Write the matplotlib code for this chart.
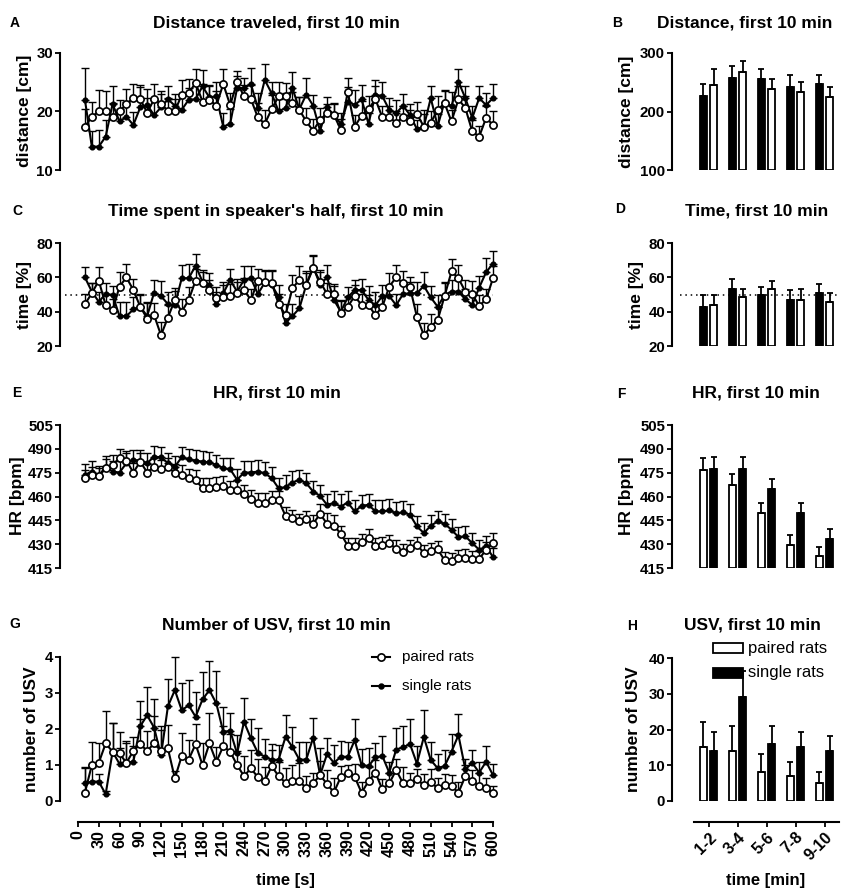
import numpy as np
import matplotlib
matplotlib.use("Agg")
import matplotlib.pyplot as plt
from matplotlib.lines import Line2D
from matplotlib.patches import Rectangle
from matplotlib.transforms import Affine2D

plt.rcParams['font.family'] = ['Liberation Sans', 'DejaVu Sans']

# ---------------- data ----------------
time_s = np.arange(10, 610, 10)
time_ticks = np.arange(0, 630, 30)
bins_min = ['1-2', '3-4', '5-6', '7-8', '9-10']

# distance traveled per 10 s bin [cm]
dist_paired = [17.4, 19.1, 20.0, 20.0, 19.0, 20.0, 21.3, 22.3, 22.1, 19.8,
               22.1, 21.3, 20.1, 20.0, 22.9, 23.1, 24.9, 21.7, 22.0, 21.0,
               24.7, 21.1, 25.0, 22.6, 22.1, 19.0, 17.9, 20.4, 22.6, 22.6,
               21.4, 20.3, 18.3, 16.7, 18.6, 19.7, 19.4, 16.9, 23.4, 17.4,
               19.3, 20.4, 22.1, 19.0, 19.0, 18.1, 19.0, 18.3, 19.6, 17.4,
               18.1, 20.3, 21.4, 18.3, 22.1, 20.6, 16.6, 15.7, 18.9, 17.7]
dist_paired_err = [3.0, 2.5, 3.6, 3.5, 2.5, 2.0, 2.5, 2.4, 2.5, 2.5,
                   2.6, 2.2, 2.2, 2.2, 2.5, 2.4, 2.3, 3.0, 2.5, 2.5,
                   2.5, 2.0, 2.0, 2.0, 2.5, 2.5, 2.4, 2.5, 2.5, 2.3,
                   2.0, 2.2, 2.3, 2.0, 2.0, 1.5, 2.0, 1.8, 2.4, 2.0,
                   2.5, 2.3, 2.3, 2.0, 2.0, 2.0, 2.0, 2.0, 2.0, 2.2,
                   2.0, 2.3, 2.2, 2.0, 2.2, 2.0, 2.0, 1.8, 2.0, 2.3]
dist_single = [22.0, 14.0, 14.0, 15.7, 21.3, 18.3, 19.1, 17.7, 20.7, 21.1,
               19.4, 20.7, 22.1, 21.0, 20.3, 22.0, 22.1, 24.3, 22.4, 22.6,
               17.4, 17.9, 24.0, 24.0, 24.7, 20.6, 25.4, 23.1, 20.0, 20.6,
               24.0, 20.4, 22.9, 21.0, 16.7, 20.7, 19.4, 17.9, 21.7, 21.1,
               22.1, 17.9, 22.9, 22.6, 20.3, 19.7, 21.0, 19.4, 17.0, 17.4,
               22.3, 17.5, 21.7, 20.9, 25.1, 22.3, 18.9, 22.3, 21.1, 22.3]
dist_single_err = [5.4, 2.6, 2.8, 2.9, 3.0, 2.2, 2.5, 2.2, 3.5, 2.8,
                   2.5, 2.3, 2.2, 2.0, 2.5, 2.0, 3.0, 2.8, 2.0, 2.5,
                   2.3, 2.5, 2.0, 1.8, 2.8, 2.5, 2.8, 2.0, 2.2, 2.5,
                   2.8, 2.0, 2.8, 1.8, 1.5, 1.8, 1.8, 1.8, 2.5, 2.5,
                   2.5, 1.8, 2.5, 2.5, 2.0, 2.2, 2.0, 1.8, 1.5, 2.8,
                   2.0, 2.0, 1.8, 2.5, 2.2, 2.0, 2.0, 2.0, 2.0, 2.4]

# time spent in speaker's half [%]
half_paired = [44.4, 50.7, 58.1, 43.8, 40.9, 54.6, 60.0, 52.6, 42.9, 36.0,
               38.0, 26.3, 36.6, 46.8, 40.0, 46.8, 58.1, 56.9, 52.6, 47.8,
               48.7, 49.1, 50.7, 52.6, 46.8, 58.1, 57.5, 56.9, 44.4, 38.0,
               53.6, 58.5, 55.6, 65.3, 57.5, 50.3, 50.3, 39.0, 42.9, 49.1,
               43.8, 43.8, 38.0, 42.9, 54.6, 60.0, 56.5, 54.2, 37.0, 26.3,
               31.1, 35.1, 49.1, 63.4, 59.5, 51.7, 50.3, 43.3, 47.2, 59.5]
half_paired_err = [6.0, 6.0, 8.0, 6.5, 6.5, 8.5, 7.5, 6.5, 7.0, 9.0,
                   7.0, 7.5, 7.5, 7.0, 7.5, 7.5, 6.5, 6.0, 6.0, 6.5,
                   7.0, 7.0, 6.5, 7.0, 6.5, 7.0, 7.0, 6.5, 6.0, 6.5,
                   8.0, 8.0, 8.0, 7.0, 7.0, 6.5, 6.0, 7.0, 6.5, 6.5,
                   6.5, 6.0, 6.5, 6.5, 8.0, 7.0, 7.0, 6.0, 7.5, 7.0,
                   7.5, 7.5, 7.5, 7.5, 7.5, 7.0, 7.5, 6.5, 6.0, 7.0]
half_single = [60.0, 51.7, 45.8, 50.3, 49.7, 37.4, 37.4, 41.3, 42.9, 37.4,
               51.1, 49.1, 44.4, 43.8, 59.5, 59.5, 66.7, 57.5, 55.6, 44.4,
               50.7, 58.5, 51.7, 58.5, 59.5, 50.3, 56.9, 55.6, 48.7, 33.5,
               37.4, 41.9, 55.6, 66.3, 55.6, 60.0, 46.8, 40.0, 48.3, 52.6,
               52.6, 46.8, 43.8, 49.1, 49.1, 43.8, 50.3, 50.7, 50.7, 55.0,
               48.3, 42.9, 49.7, 51.7, 51.7, 47.2, 44.0, 54.0, 63.0, 68.0]
half_single_err = [6.0, 5.0, 5.5, 6.5, 5.0, 8.0, 8.0, 7.0, 7.5, 8.0,
                   7.5, 8.5, 7.0, 8.0, 7.5, 8.0, 7.0, 6.5, 7.0, 7.0,
                   6.5, 6.5, 7.5, 8.0, 7.0, 8.0, 7.0, 8.5, 7.0, 5.5,
                   7.0, 7.5, 7.0, 6.5, 7.5, 7.0, 8.0, 7.0, 6.0, 6.0,
                   6.5, 8.0, 7.5, 6.5, 6.0, 6.5, 6.0, 6.5, 6.5, 8.0,
                   6.5, 7.0, 7.5, 6.5, 6.5, 6.0, 6.5, 7.0, 8.0, 7.5]

# heart rate [bpm]
hr_paired = [471.5, 473.6, 472.6, 477.8, 479.9, 484.1, 482.6, 475.1, 482.0, 475.1,
             478.8, 477.2, 478.8, 474.7, 473.6, 471.5, 470.5, 465.2, 465.2, 465.9,
             466.7, 463.8, 464.2, 461.7, 458.3, 456.2, 456.2, 457.5, 457.5, 447.9,
             446.4, 444.3, 445.8, 442.8, 449.1, 442.8, 441.6, 436.6, 429.0, 429.0,
             431.1, 433.8, 428.6, 429.7, 430.7, 426.9, 424.8, 427.6, 429.7, 424.4,
             425.5, 426.9, 419.8, 419.2, 421.3, 421.3, 420.7, 420.7, 426.5, 430.7]
hr_paired_err = [5.0, 5.0, 5.5, 6.0, 6.0, 5.5, 6.0, 6.0, 5.5, 5.5,
                 5.5, 5.5, 5.5, 5.5, 6.0, 6.0, 6.0, 6.5, 6.5, 6.5,
                 6.0, 6.0, 6.0, 5.5, 6.0, 6.0, 6.0, 6.0, 6.0, 5.5,
                 5.0, 5.0, 5.0, 5.5, 6.0, 7.0, 6.5, 5.0, 5.0, 5.0,
                 5.0, 5.5, 5.5, 5.0, 5.0, 5.5, 5.0, 5.0, 5.0, 5.0,
                 5.0, 5.0, 5.0, 5.0, 5.0, 5.5, 5.0, 5.0, 5.0, 6.5]
hr_single = [473.6, 475.7, 473.0, 478.8, 475.7, 475.1, 481.0, 483.0, 482.6, 481.0,
             485.1, 484.7, 481.0, 478.8, 484.7, 483.4, 482.6, 482.0, 481.4, 479.9,
             477.8, 477.2, 470.5, 475.1, 475.1, 475.7, 474.7, 471.5, 465.2, 465.9,
             468.8, 470.5, 468.4, 463.1, 460.4, 454.8, 455.8, 453.7, 456.2, 450.6,
             454.1, 454.8, 450.6, 450.6, 451.2, 449.5, 450.0, 448.5, 441.2, 437.0,
             441.6, 444.3, 442.8, 439.1, 434.5, 434.9, 430.7, 426.5, 428.6, 421.9]
hr_single_err = [7.0, 6.5, 6.5, 6.5, 6.5, 7.0, 6.5, 6.5, 6.5, 6.5,
                 6.5, 6.5, 6.5, 7.0, 6.5, 6.5, 6.5, 6.5, 6.5, 6.5,
                 6.5, 7.0, 7.0, 7.0, 7.0, 7.0, 7.0, 7.0, 6.5, 7.5,
                 7.5, 6.0, 6.5, 6.5, 7.0, 7.0, 7.5, 8.0, 7.0, 7.0,
                 7.0, 7.0, 7.0, 7.0, 7.0, 7.0, 7.0, 7.0, 6.5, 6.5,
                 6.5, 6.5, 6.5, 6.5, 6.5, 6.5, 6.5, 6.0, 6.5, 6.0]

# number of USV per 10 s bin
usv_paired = [0.23, 1.0, 1.06, 1.6, 1.37, 1.32, 1.06, 1.39, 1.58, 1.39,
              1.6, 1.39, 1.46, 0.63, 1.25, 1.15, 1.58, 1.0, 1.6, 1.09,
              1.52, 1.37, 1.0, 0.69, 0.91, 0.66, 0.55, 0.97, 0.69, 0.51,
              0.56, 0.56, 0.35, 0.49, 0.72, 0.47, 0.24, 0.67, 0.79, 0.67,
              0.23, 0.55, 0.79, 0.32, 0.49, 0.86, 0.49, 0.49, 0.6, 0.44,
              0.54, 0.35, 0.44, 0.42, 0.23, 0.69, 0.56, 0.42, 0.35, 0.23]
usv_paired_err = [0.7, 0.65, 0.55, 0.9, 0.8, 0.6, 0.6, 0.4, 0.7, 0.55,
                  0.75, 0.7, 0.65, 0.2, 0.65, 0.55, 0.55, 0.6, 0.85, 0.4,
                  0.55, 0.5, 0.4, 0.55, 0.5, 0.5, 0.4, 0.45, 0.4, 0.4,
                  0.45, 0.5, 0.35, 0.3, 0.4, 0.4, 0.4, 0.3, 0.2, 0.35,
                  0.3, 0.4, 0.35, 0.3, 0.3, 0.3, 0.45, 0.3, 0.3, 0.3,
                  0.35, 0.3, 0.3, 0.3, 0.3, 0.3, 0.3, 0.35, 0.3, 0.2]
usv_single = [0.49, 0.54, 0.54, 0.19, 1.37, 1.03, 1.06, 1.09, 2.08, 2.38,
              2.04, 1.27, 2.63, 3.08, 2.52, 2.66, 2.34, 2.82, 3.08, 2.71,
              1.92, 1.95, 1.32, 2.2, 1.74, 1.34, 1.23, 1.14, 1.15, 1.78,
              1.5, 1.15, 1.15, 1.76, 0.72, 1.3, 1.06, 1.23, 1.23, 1.69,
              1.0, 0.97, 1.21, 1.25, 0.79, 1.43, 1.49, 1.58, 1.04, 1.78,
              1.14, 0.91, 0.97, 1.37, 1.83, 0.88, 1.06, 0.79, 1.09, 0.72]
usv_single_err = [0.45, 0.4, 0.22, 0.1, 0.8, 0.45, 0.55, 0.45, 0.7, 0.8,
                  0.8, 0.7, 0.75, 0.92, 0.75, 0.7, 0.7, 0.75, 0.8, 0.9,
                  0.7, 0.5, 0.5, 0.65, 0.55, 0.7, 0.5, 0.45, 0.4, 0.6,
                  0.55, 0.5, 0.5, 0.55, 0.75, 0.45, 0.5, 0.45, 0.4, 0.6,
                  0.45, 0.5, 0.4, 0.55, 0.3, 0.6, 0.6, 0.7, 0.5, 0.75,
                  0.5, 0.4, 0.45, 0.5, 0.6, 0.3, 0.35, 0.3, 0.45, 0.3]

# 2-min bin summaries
dist2_single = [227, 257, 256, 242, 247]
dist2_single_err = [20, 20, 17, 20, 15]
dist2_paired = [246, 267, 238, 233, 225]
dist2_paired_err = [26, 20, 18, 18, 17]

time2_single = [43, 53, 50, 47, 51]
time2_single_err = [6.8, 5.9, 4.5, 5.8, 5.4]
time2_paired = [44, 48.5, 53, 47, 45.5]
time2_paired_err = [5.5, 4.5, 5.1, 6.0, 5.3]

hr2_paired = [476.7, 467.5, 449.5, 429.5, 422.5]
hr2_paired_err = [7.4, 6.7, 6.7, 6.1, 5.7]
hr2_single = [477.5, 477.5, 464.5, 449.5, 433.5]
hr2_single_err = [7.6, 7.6, 6.5, 6.3, 5.9]

usv2_paired = [15, 14, 8, 7, 5]
usv2_paired_err = [7.2, 7.0, 5.2, 4.0, 3.0]
usv2_single = [14, 29, 16, 15, 14]
usv2_single_err = [5.2, 7.3, 5.1, 4.2, 4.2]

# ---------------- figure ----------------
W, H = 858, 893
fig = plt.figure(figsize=(W / 100, H / 100), dpi=100)
pix = Affine2D().scale(1 / W, -1 / H).translate(0, 1) + fig.transFigure
PT = 72 / 100  # points per pixel

LEFT_X = (78, 493)
RIGHT_X = (694, 839)


def make_axes(xr, ytop, ybot, ylim, yticks, spine_px):
    ax = fig.add_axes([xr[0] / W, 1 - ybot / H, (xr[1] - xr[0]) / W, (ybot - ytop) / H])
    ax.set_ylim(*ylim)
    ax.set_yticks(yticks)
    for s in ['top', 'right', 'bottom']:
        ax.spines[s].set_visible(False)
    ax.spines['left'].set_position(('outward', spine_px * PT))
    ax.spines['left'].set_linewidth(1.5)
    ax.spines['left'].set_bounds(*ylim)
    ax.tick_params(axis='y', direction='out', length=3.5, width=1.3, pad=1.5, labelsize=10.8)
    ax.set_xticks([])
    ax.patch.set_visible(False)
    for lab in ax.get_yticklabels():
        lab.set_fontweight('bold')
    return ax


def show_bottom_axis(ax, ticks, labels, rotation):
    ax.spines['bottom'].set_visible(True)
    ax.spines['bottom'].set_position(('outward', 21 * PT))
    ax.spines['bottom'].set_linewidth(1.5)
    ax.set_xticks(ticks)
    ax.tick_params(axis='x', direction='out', length=3.5, width=1.3, pad=2, labelsize=11.5)
    if rotation == 90:
        ax.set_xticklabels(labels, rotation=90, fontweight='bold')
    else:
        ax.set_xticklabels(labels, rotation=45, ha='right', va='top',
                           rotation_mode='anchor', fontweight='bold')


def plot_series(ax, y, err, filled):
    y = np.asarray(y)
    err = np.asarray(err)
    ax.errorbar(time_s, y, yerr=[np.zeros_like(err), err], fmt='none', ecolor='k',
                elinewidth=1.0, capsize=2.6, capthick=1.0, clip_on=False, zorder=2)
    if filled:
        ax.plot(time_s, y, color='k', lw=1.5, marker='o', ms=3.4, mfc='k', mec='k',
                clip_on=False, zorder=3)
    else:
        ax.plot(time_s, y, color='k', lw=1.5, marker='o', ms=5.2, mfc='white', mec='k',
                mew=1.2, clip_on=False, zorder=4)


def plot_bars(ax, first, first_err, first_black, second, second_err, base):
    x = np.arange(len(bins_min))
    off, wid = 0.18, 0.25
    for vals, errs, dx, black in [(first, first_err, -off, first_black),
                                  (second, second_err, off, not first_black)]:
        vals = np.asarray(vals, dtype=float)
        ax.bar(x + dx, vals - base, bottom=base, width=wid,
               color='k' if black else 'white', edgecolor='k', linewidth=1.3, zorder=2)
        ax.errorbar(x + dx, vals, yerr=[np.zeros(len(vals)), errs], fmt='none', ecolor='k',
                    elinewidth=1.3, capsize=2.2, capthick=1.3, clip_on=False, zorder=3)
    ax.set_xlim(-0.5, 4.5)


def ylabel(x, y, text):
    fig.text(x, y, text, rotation=90, ha='center', va='center', fontsize=12.5,
             fontweight='bold', transform=pix)


def title(x, y, text, ha='center'):
    fig.text(x, y, text, ha=ha, va='baseline', fontsize=12.5, fontweight='bold',
             transform=pix)


def letter(x, y, text):
    fig.text(x, y, text, ha='left', va='baseline', fontsize=10, fontweight='bold',
             transform=pix)


# A: distance over time
axA = make_axes(LEFT_X, 53, 170, (10, 30), [10, 20, 30], 18)
axA.set_xlim(0, 600)
plot_series(axA, dist_single, dist_single_err, True)
plot_series(axA, dist_paired, dist_paired_err, False)

# B: distance per 2 min
axB = make_axes(RIGHT_X, 53, 170, (100, 300), [100, 200, 300], 22)
plot_bars(axB, dist2_single, dist2_single_err, True, dist2_paired, dist2_paired_err, 100)

# C: time in speaker's half
axC = make_axes(LEFT_X, 243, 346, (20, 80), [20, 40, 60, 80], 18)
axC.set_xlim(0, 600)
axC.plot([-19, 600], [50, 50], color='k', lw=1.1, ls=(0, (1, 2.5)), clip_on=False, zorder=1)
plot_series(axC, half_single, half_single_err, True)
plot_series(axC, half_paired, half_paired_err, False)

# D: time per 2 min
axD = make_axes(RIGHT_X, 243, 346, (20, 80), [20, 40, 60, 80], 22)
plot_bars(axD, time2_single, time2_single_err, True, time2_paired, time2_paired_err, 20)
axD.plot([-0.97, 4.5], [50, 50], color='k', lw=1.1, ls=(0, (1, 2.5)), clip_on=False, zorder=4)

# E: heart rate
axE = make_axes(LEFT_X, 425, 568, (415, 505), np.arange(415, 506, 15), 18)
axE.set_xlim(0, 600)
plot_series(axE, hr_single, hr_single_err, True)
plot_series(axE, hr_paired, hr_paired_err, False)

# F: heart rate per 2 min
axF = make_axes(RIGHT_X, 425, 568, (415, 505), np.arange(415, 506, 15), 22)
plot_bars(axF, hr2_paired, hr2_paired_err, False, hr2_single, hr2_single_err, 415)

# G: USV counts
axG = make_axes(LEFT_X, 657, 801, (0, 4), [0, 1, 2, 3, 4], 18)
axG.set_xlim(0, 600)
plot_series(axG, usv_single, usv_single_err, True)
plot_series(axG, usv_paired, usv_paired_err, False)
show_bottom_axis(axG, time_ticks, [str(t) for t in time_ticks], 90)

# H: USV per 2 min
axH = make_axes(RIGHT_X, 658, 801, (0, 40), [0, 10, 20, 30, 40], 22)
plot_bars(axH, usv2_paired, usv2_paired_err, False, usv2_single, usv2_single_err, 0)
show_bottom_axis(axH, np.arange(len(bins_min)), bins_min, 45)

# y-axis labels
ylabel(25, 111, 'distance [cm]')
ylabel(25, 295, 'time [%]')
ylabel(18, 496, 'HR [bpm]')
ylabel(31, 729, 'number of USV')
ylabel(626, 112, 'distance [cm]')
ylabel(636, 295, 'time [%]')
ylabel(626, 496, 'HR [bpm]')
ylabel(634, 729, 'number of USV')

# x-axis labels
fig.text(285, 885, 'time [s]', ha='center', va='baseline', fontsize=12,
         fontweight='bold', transform=pix)
fig.text(766, 885, 'time [min]', ha='center', va='baseline', fontsize=12,
         fontweight='bold', transform=pix)

# titles
title(276, 27, 'Distance traveled, first 10 min')
title(657, 27, 'Distance, first 10 min', ha='left')
title(276, 216, "Time spent in speaker's half, first 10 min")
title(757, 216, 'Time, first 10 min')
title(277, 397, 'HR, first 10 min')
title(756, 397, 'HR, first 10 min')
title(276, 629, 'Number of USV, first 10 min')
title(752, 629, 'USV, first 10 min')

# panel letters
letter(10, 27, 'A')
letter(612, 27, 'B')
letter(12, 215, 'C')
letter(615, 213, 'D')
letter(12, 397, 'E')
letter(617, 398, 'F')
letter(9, 628, 'G')
letter(627, 630, 'H')

# legend for G
for yy, lab, filled in [(657, 'paired rats', False), (686, 'single rats', True)]:
    fig.add_artist(Line2D([372, 390], [yy, yy], color='k', lw=1.5, transform=pix))
    fig.add_artist(Line2D([381], [yy], marker='o', ms=3.4 if filled else 5.2,
                          mfc='k' if filled else 'white', mec='k', mew=1.2, transform=pix))
    fig.text(402, yy, lab, ha='left', va='center', fontsize=11, transform=pix)

# legend for H
for yy, lab, fc in [(648, 'paired rats', 'white'), (673, 'single rats', 'k')]:
    fig.add_artist(Rectangle((713, yy - 5), 30, 10, facecolor=fc, edgecolor='k',
                             lw=1.3, transform=pix))
    fig.text(748, yy, lab, ha='left', va='center', fontsize=12, transform=pix)

fig.savefig('out.png', dpi=100)
